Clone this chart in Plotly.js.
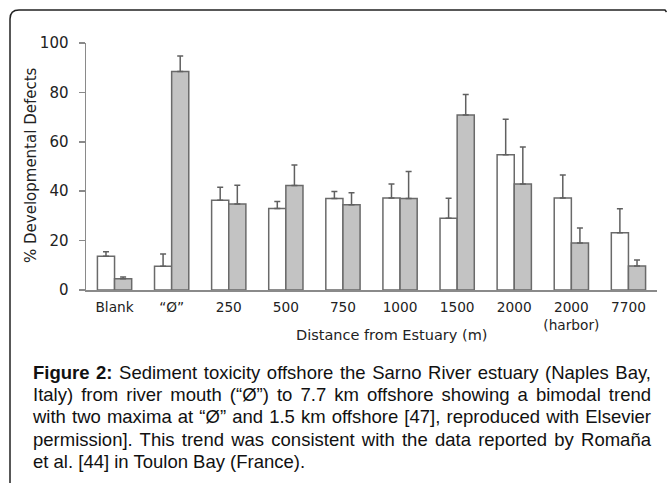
<!DOCTYPE html>
<html>
<head>
<meta charset="utf-8">
<script src="https://cdn.plot.ly/plotly-3.0.1.min.js"></script>
<style>
  html, body { margin: 0; padding: 0; background: #fff; }
  #wrap { position: relative; width: 668px; height: 485px; overflow: hidden; }
  #chart { position: absolute; left: 0; top: 0; width: 668px; height: 485px; }
  #caption { position: absolute; left: 33px; top: 362px; width: 618px;
    font-family: "Liberation Sans", Arial, sans-serif; font-size: 18.5px; line-height: 22.2px; color: #111; }
  #caption .ln { display: block; white-space: nowrap; text-align: justify; text-align-last: justify; }
  #caption .last { text-align: left; text-align-last: left; }
</style>
</head>
<body>
<div id="wrap">
  <div id="chart"></div>
  <div id="caption">
    <span class="ln"><b>Figure 2:</b> Sediment toxicity offshore the Sarno River estuary (Naples Bay,</span>
    <span class="ln">Italy) from river mouth (“Ø”) to 7.7 km offshore showing a bimodal trend</span>
    <span class="ln">with two maxima at “Ø” and 1.5 km offshore [47], reproduced with Elsevier</span>
    <span class="ln">permission]. This trend was consistent with the data reported by Romaña</span>
    <span class="ln last">et al. [44] in Toulon Bay (France).</span>
  </div>
</div>
<script>
// ---- data ----
const categories = ['Blank', 'Ø', '250', '500', '750', '1000', '1500', '2000', '2000 harbor', '7700'];
const tickLabels = ['Blank', '“Ø”', '250', '500', '750', '1000', '1500', '2000', '2000<br>(harbor)', '7700'];
const whiteValues = [13.7, 9.6, 36.3, 33.0, 37.0, 37.2, 29.0, 54.8, 37.2, 23.2];
const whiteErrors = [1.8, 5.0, 5.3, 2.8, 2.9, 5.7, 8.1, 14.3, 9.4, 9.7];
const greyValues  = [4.6, 88.5, 34.8, 42.3, 34.5, 37.0, 70.9, 42.9, 19.0, 9.7];
const greyErrors  = [0.7, 6.2, 7.6, 8.3, 4.9, 11.0, 8.3, 15.0, 6.1, 2.4];
const yTicks = [0, 20, 40, 60, 80, 100];

// ---- geometry helpers (pixel -> paper) ----
const L = 86, R = 11, T = 43, B = 195, W = 668, H = 485;
const pw = W - L - R, ph = H - T - B;
const px = x => (x - L) / pw;
const py = y => (H - B - y) / ph;

const zeros = categories.map(() => 0);
const errStyle = { type: 'data', symmetric: false, arrayminus: zeros, color: '#606060', thickness: 1.5, width: 3 };

const traces = [
  { type: 'bar', x: categories, y: whiteValues, name: 'white',
    marker: { color: '#ffffff', line: { color: '#6a6a6a', width: 1.5 } },
    error_y: Object.assign({}, errStyle, { array: whiteErrors }) },
  { type: 'bar', x: categories, y: greyValues, name: 'grey',
    marker: { color: '#c3c3c3', line: { color: '#6a6a6a', width: 1.5 } },
    error_y: Object.assign({}, errStyle, { array: greyErrors }) }
];

const frame = `M ${px(10)},${py(483)} L ${px(10)},${py(19)} Q ${px(10)},${py(10)} ${px(19)},${py(10)} L ${px(665)},${py(10)} L ${px(666.5)},${py(12)}`;

const layout = {
  width: W, height: H,
  margin: { l: L, r: R, t: T, b: B, pad: 0 },
  paper_bgcolor: '#ffffff', plot_bgcolor: '#ffffff',
  showlegend: false,
  barmode: 'group', bargap: 0.4, bargroupgap: 0,
  font: { family: 'DejaVu Sans, Verdana, sans-serif', color: '#222222' },
  xaxis: {
    type: 'category', range: [-0.5, 9.5], fixedrange: true,
    tickvals: categories, ticktext: tickLabels,
    showline: true, linecolor: '#8a8a8a', linewidth: 1.5,
    ticks: '', showgrid: false, zeroline: false,
    tickfont: { size: 13.7, color: '#222222' }, ticklabelstandoff: 4
  },
  yaxis: {
    range: [0, 100], fixedrange: true,
    tickvals: yTicks, ticktext: yTicks.map(String),
    showline: true, linecolor: '#8a8a8a', linewidth: 1.5,
    ticks: 'outside', ticklen: 6, tickcolor: '#8a8a8a', tickwidth: 1.5,
    showgrid: false, zeroline: false,
    tickfont: { size: 15, color: '#222222' }, ticklabelstandoff: 7
  },
  annotations: [
    { text: '% Developmental Defects', xref: 'paper', yref: 'paper', x: px(31), y: py(165),
      textangle: -90, showarrow: false, xanchor: 'center', yanchor: 'middle',
      font: { size: 15, color: '#222222' } },
    { text: 'Distance from Estuary (m)', xref: 'paper', yref: 'paper', x: px(391), y: py(335),
      showarrow: false, xanchor: 'center', yanchor: 'middle',
      font: { size: 14.5, color: '#222222' } }
  ],
  shapes: [
    { type: 'path', xref: 'paper', yref: 'paper', path: frame, line: { color: '#222222', width: 1.5 } }
  ]
};

Plotly.newPlot('chart', traces, layout, { displayModeBar: false, staticPlot: true });
</script>
</body>
</html>
